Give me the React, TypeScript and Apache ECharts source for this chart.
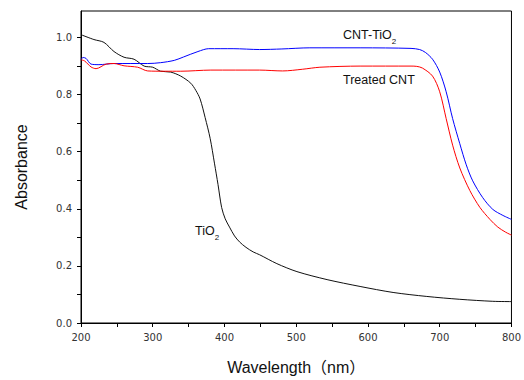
import React, { useEffect, useRef } from "react";
import * as echarts from "echarts";

const tio2X = [200, 218, 232, 246, 260, 274, 288, 300, 311, 325, 339, 353, 360, 366, 373, 380, 386, 391, 396, 401, 407, 414, 421, 430, 440, 449, 473, 501, 543, 589, 635, 682, 728, 774, 800];
const tio2Y = [1.010, 0.993, 0.983, 0.951, 0.931, 0.924, 0.900, 0.896, 0.882, 0.879, 0.865, 0.840, 0.815, 0.785, 0.720, 0.647, 0.560, 0.485, 0.405, 0.365, 0.336, 0.305, 0.284, 0.265, 0.249, 0.239, 0.208, 0.180, 0.152, 0.128, 0.107, 0.093, 0.083, 0.076, 0.075];

const cntTio2X = [200, 203, 207, 214, 225, 246, 293, 311, 330, 343, 363, 378, 412, 449, 480, 519, 589, 660, 672, 680, 690, 700, 709, 718, 728, 737, 746, 760, 774, 788, 800];
const cntTio2Y = [0.924, 0.930, 0.927, 0.907, 0.905, 0.909, 0.909, 0.912, 0.920, 0.932, 0.951, 0.961, 0.961, 0.958, 0.960, 0.964, 0.964, 0.962, 0.958, 0.948, 0.924, 0.879, 0.810, 0.716, 0.628, 0.554, 0.498, 0.439, 0.398, 0.377, 0.363];

const treatedX = [200, 205, 214, 221, 235, 246, 260, 279, 293, 316, 339, 381, 449, 481, 509, 533, 589, 660, 668, 676, 690, 700, 709, 718, 728, 742, 756, 770, 781, 792, 800];
const treatedY = [0.922, 0.918, 0.897, 0.891, 0.907, 0.909, 0.901, 0.896, 0.883, 0.882, 0.882, 0.886, 0.886, 0.883, 0.889, 0.896, 0.900, 0.900, 0.899, 0.893, 0.865, 0.810, 0.716, 0.623, 0.543, 0.464, 0.405, 0.363, 0.336, 0.318, 0.308];

const xLabels = [200, 300, 400, 500, 600, 700, 800];
const xTicks = [200, 250, 300, 350, 400, 450, 500, 550, 600, 650, 700, 750, 800];
const yLabels = [0, 0.2, 0.4, 0.6, 0.8, 1.0];
const yTicks = [0, 0.1, 0.2, 0.3, 0.4, 0.5, 0.6, 0.7, 0.8, 0.9, 1.0];

const pairs = (xs: number[], ys: number[]) => xs.map((x, i) => [x, ys[i]]);

const FONT = "'Liberation Sans', Arial, 'Noto Sans CJK SC', sans-serif";

export default function App() {
  const ref = useRef<HTMLDivElement>(null);
  useEffect(() => {
    const chart = echarts.init(ref.current!, undefined, { renderer: "svg" });
    const axisCommon = {
      axisLine: { show: true, lineStyle: { color: "#000", width: 1 } },
      splitLine: { show: false },
      nameTextStyle: { fontFamily: FONT, fontSize: 16, color: "#111" },
    };
    const subRich = {
      a: { fontFamily: FONT, fontSize: 12.5, lineHeight: 14, verticalAlign: "top", fill: "#111" },
      s: { fontFamily: FONT, fontSize: 8, lineHeight: 8, verticalAlign: "top", padding: [9, 0, 0, 0], fill: "#111" },
    };
    chart.setOption({
      animation: false,
      backgroundColor: "#fff",
      grid: { left: 81, right: 12, top: 11, bottom: 53, show: true, borderColor: "#000", borderWidth: 1 },
      xAxis: {
        type: "value",
        min: 200,
        max: 800,
        ...axisCommon,
        name: "Wavelength（nm）",
        nameLocation: "middle",
        nameGap: 36,
        axisTick: { show: true, customValues: xTicks, length: 4, inside: false, lineStyle: { color: "#000" } },
        axisLabel: { customValues: xLabels, margin: 9, fontFamily: "'DejaVu Sans', sans-serif", fontSize: 10, color: "#333" },
      },
      yAxis: {
        type: "value",
        min: 0,
        max: 1.093,
        ...axisCommon,
        name: "Absorbance",
        nameLocation: "middle",
        nameGap: 52,
        axisTick: { show: true, customValues: yTicks, length: 4, inside: false, lineStyle: { color: "#000" } },
        axisLabel: {
          customValues: yLabels,
          margin: 9,
          fontFamily: "'DejaVu Sans', sans-serif",
          fontSize: 10,
          color: "#333",
          formatter: (v: number) => v.toFixed(1),
        },
      },
      series: [
        { name: "TiO2", type: "line", data: pairs(tio2X, tio2Y), showSymbol: false, smooth: 0.3, lineStyle: { color: "#111", width: 1 } },
        { name: "CNT-TiO2", type: "line", data: pairs(cntTio2X, cntTio2Y), showSymbol: false, smooth: 0.3, lineStyle: { color: "#0000ff", width: 1 } },
        { name: "Treated CNT", type: "line", data: pairs(treatedX, treatedY), showSymbol: false, smooth: 0.3, lineStyle: { color: "#ff0000", width: 1 } },
      ],
      graphic: [
        { type: "text", left: 343, top: 29, style: { text: "{a|CNT-TiO}{s|2}", rich: subRich } },
        { type: "text", left: 343, top: 74, style: { text: "Treated CNT", fontFamily: FONT, fontSize: 12.5, fill: "#111" } },
        { type: "text", left: 195, top: 225, style: { text: "{a|TiO}{s|2}", rich: subRich } },
      ],
    });
    return () => chart.dispose();
  }, []);
  return <div ref={ref} style={{ position: "fixed", left: 0, top: 0, width: 524, height: 380, background: "#fff" }} />;
}
